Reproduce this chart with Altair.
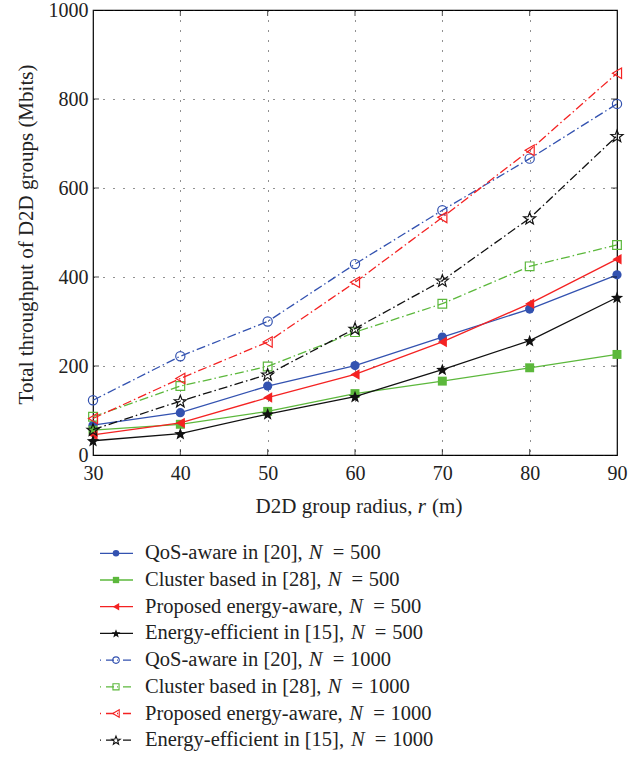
import math
import altair as alt
import pandas as pd

# ---------------- data ----------------
R = [30, 40, 50, 60, 70, 80, 90]
qos_500 = [67, 95, 155, 201, 265, 328, 405]
cluster_500 = [56, 69, 98, 138, 166, 196, 226]
proposed_500 = [45, 72, 129, 181, 254, 340, 440]
energy_500 = [32, 48, 92, 131, 192, 257, 354]
qos_1000 = [123, 222, 300, 429, 550, 666, 789]
cluster_1000 = [86, 155, 199, 276, 340, 424, 472]
proposed_1000 = [82, 172, 254, 388, 534, 685, 858]
energy_1000 = [57, 121, 181, 284, 392, 532, 717]

method_labels = ["QoS-aware in [20],", "Cluster based in [28],",
                 "Proposed energy-aware,", "Energy-efficient in [15],"]
n_labels = ["500", "1000"]
y_ticks = [0, 200, 400, 600, 800, 1000]
x_title_parts = ["D2D group radius,", "r", "(m)"]
y_title = "Total throughput of D2D groups (Mbits)"

# ---------------- styles ----------------
FONT = "Liberation Serif"
BLUE, GREEN, RED, BLACK = "#3352b0", "#5cb83c", "#f42222", "#111111"
DASHDOT = [9, 3, 1.5, 3]
LEG_DASH = [1, 5, 8, 3]

# five-pointed star as a custom symbol path in the [-1, 1] box
pts = []
for k in range(10):
    rad = 1.0 if k % 2 == 0 else 0.42
    ang = math.radians(-90 + 36 * k)
    pts.append((rad * math.cos(ang), rad * math.sin(ang) + 0.08))
STAR = "M" + " L".join(f"{px:.3f},{py:.3f}" for px, py in pts) + " Z"

series = [
    (qos_500, BLUE, "circle", True, 85, 0, 0),
    (cluster_500, GREEN, "square", True, 80, 1, 0),
    (proposed_500, RED, "triangle-left", True, 110, 2, 0),
    (energy_500, BLACK, STAR, True, 170, 3, 0),
    (qos_1000, BLUE, "circle", False, 85, 0, 1),
    (cluster_1000, GREEN, "square", False, 75, 1, 1),
    (proposed_1000, RED, "triangle-left", False, 110, 2, 1),
    (energy_1000, BLACK, STAR, False, 160, 3, 1),
]

W, H = 524, 445
xscale = alt.Scale(domain=[30, 90], nice=False, zero=False)
yscale = alt.Scale(domain=[0, 1000], nice=False)
X = alt.X("r:Q", scale=xscale,
          axis=alt.Axis(values=R, title=None, labelPadding=8, grid=True,
                        orient="bottom", format="d", labelFlush=False,
                        labelOverlap=False))
Y = alt.Y("v:Q", scale=yscale,
          axis=alt.Axis(values=y_ticks, title=y_title, titleX=-67, titleY=224,
                        titleBaseline="middle", titleAlign="center", titleAngle=-90,
                        labelPadding=5, grid=True, orient="left", format="d",
                        labelFlush=False, labelOverlap=False))

# Times / Liberation Serif advance widths (per 1000 em)
TW = {" ": 250, "(": 333, ")": 333, ",": 250, "-": 333, "=": 564, "[": 333, "]": 333,
      "C": 667, "D": 722, "E": 611, "P": 556, "Q": 722, "S": 556,
      "a": 444, "b": 500, "c": 444, "d": 500, "e": 444, "f": 333, "g": 500, "i": 278,
      "l": 278, "m": 778, "n": 500, "o": 500, "p": 500, "r": 333, "s": 389, "t": 278,
      "u": 500, "w": 722, "y": 500}
for dch in "0123456789":
    TW[dch] = 500


def tw(s, fs):
    return sum(TW.get(ch, 500) for ch in s) * fs / 1000.0


one = pd.DataFrame({"k": [0]})
layers = []

# data lines and markers (first, so they carry the axes)
for vals, col, shape, filled, size, mi, ni in series:
    df = pd.DataFrame({"r": R, "v": vals})
    line_kw = dict(color=col, strokeWidth=1.3)
    if not filled:
        line_kw["strokeDash"] = DASHDOT
    layers.append(alt.Chart(df).mark_line(**line_kw).encode(x=X, y=Y))
    pt_kw = dict(shape=shape, size=size, strokeWidth=1.2, opacity=1,
                 filled=filled, color=col)
    layers.append(alt.Chart(df).mark_point(**pt_kw).encode(x=X, y=Y))

# inward frame ticks
inner = [40, 50, 60, 70, 80]
inner_y = [200, 400, 600, 800]
tick_defs = [
    (pd.DataFrame({"r": inner, "v": [0] * 5}), "vertical", {"yOffset": -3}),
    (pd.DataFrame({"r": inner, "v": [1000] * 5}), "vertical", {"yOffset": 3}),
    (pd.DataFrame({"r": [30] * 4, "v": inner_y}), "horizontal", {"xOffset": 3}),
    (pd.DataFrame({"r": [90] * 4, "v": inner_y}), "horizontal", {"xOffset": -3}),
]
for df, orient, off in tick_defs:
    layers.append(alt.Chart(df).mark_tick(orient=orient, size=6, thickness=1,
                                          color="black", **off).encode(x=X, y=Y))

# ---------------- legend (below plot) ----------------
LFS = 20.5
SP = 0.25 * LFS
row0, step = 543.3, 26.7
for i, (vals, col, shape, filled, size, mi, ni) in enumerate(series):
    yy = row0 + step * i
    rk = dict(color=col, strokeWidth=1.3)
    if not filled:
        rk["strokeDash"] = LEG_DASH
    layers.append(alt.Chart(one).mark_rule(**rk).encode(
        x=alt.value(7), x2=alt.value(40), y=alt.value(yy)))
    layers.append(alt.Chart(one).mark_point(
        shape=shape, size=size * 0.5, filled=filled, color=col, strokeWidth=1.1,
        opacity=1).encode(x=alt.value(23), y=alt.value(yy)))
    prefix = method_labels[mi]
    x0 = 52
    xn = x0 + tw(prefix, LFS) + SP + 1
    xeq = xn + 0.667 * LFS + 0.5 * LFS
    xnum = xeq + 0.564 * LFS + 0.28 * LFS
    pieces = [(prefix, x0, "normal"), ("N", xn, "italic"), ("=", xeq, "normal"),
              (n_labels[ni], xnum, "normal")]
    for txt, xx, style in pieces:
        layers.append(alt.Chart(one).mark_text(
            text=txt, align="left", baseline="middle", font=FONT, fontSize=LFS,
            fontStyle=style, color="#222222").encode(x=alt.value(xx), y=alt.value(yy)))

# ---------------- x axis title with italic r ----------------
XFS = 21
XSP = 0.25 * XFS
w_parts = [tw(x_title_parts[0], XFS) + XSP, 0.389 * XFS + XSP + 1,
           tw(x_title_parts[2], XFS)]
xs = W / 2 + 4 - sum(w_parts) / 2
pos = [xs, xs + w_parts[0], xs + w_parts[0] + w_parts[1]]
for txt, xx, style in zip(x_title_parts, pos, ["normal", "italic", "normal"]):
    layers.append(alt.Chart(one).mark_text(
        text=txt, align="left", baseline="middle", font=FONT, fontSize=XFS,
        fontStyle=style, color="#222222").encode(x=alt.value(xx), y=alt.value(497)))

chart = alt.layer(*layers).properties(
    width=W, height=H,
    autosize=alt.AutoSizeParams(type="none"),
    padding={"left": 93, "top": 10, "right": 27, "bottom": 302},
    background="white",
).configure_view(stroke="black", strokeWidth=1.2).configure_axis(
    labelFont=FONT, labelFontSize=20, labelColor="#222222",
    titleFont=FONT, titleFontSize=21, titleFontWeight="normal", titleColor="#222222",
    domain=False, ticks=False, gridColor="#222222", gridDash=[1, 9], gridWidth=1,
    gridOpacity=1,
)

chart.save("out.html", embed_options={"renderer": "svg", "actions": False})
